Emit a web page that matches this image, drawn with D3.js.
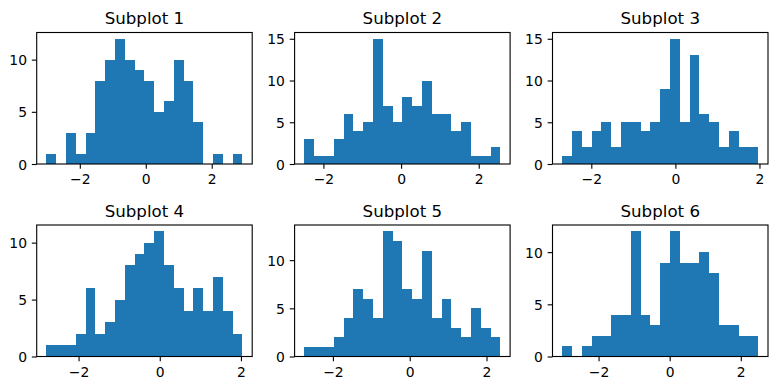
<!DOCTYPE html>
<html><head><meta charset="utf-8">
<script src="https://cdn.jsdelivr.net/npm/d3@7"></script>
<style>
body{margin:0;background:#fff}
svg{display:block}
text{font-family:"DejaVu Sans",sans-serif}
</style>
</head><body>
<svg id="c" width="776" height="390"></svg>
<script>
// ---- data ----
const titles = ["Subplot 1","Subplot 2","Subplot 3","Subplot 4","Subplot 5","Subplot 6"];
const counts1 = [1,0,3,1,3,8,10,12,10,9,8,5,6,10,8,4,0,1,0,1];
const counts2 = [3,1,1,3,6,4,5,15,7,5,8,7,10,6,6,4,5,1,1,2];
const counts3 = [1,4,2,4,5,2,5,5,4,5,9,15,5,13,6,5,2,4,2,2];
const counts4 = [1,1,1,2,6,2,3,5,8,9,10,11,8,6,4,6,4,7,4,2];
const counts5 = [1,1,1,2,4,7,6,4,13,12,7,6,11,4,6,3,2,5,3,2];
const counts6 = [1,0,1,2,2,4,4,12,4,3,9,12,9,9,10,8,3,3,2,2];
const dataMin = [-3.01,-2.49,-2.69,-2.79,-2.742,-3.02];
const dataMax = [2.93,2.556,1.97,2.036,2.359,2.49];
const xTicks = [-2,0,2];
const yTicks1 = [0,5,10];
const yTicks2 = [0,5,10,15];
const yTicks3 = [0,5,10,15];
const yTicks4 = [0,5,10];
const yTicks5 = [0,5,10];
const yTicks6 = [0,5,10];
const allCounts = [counts1,counts2,counts3,counts4,counts5,counts6];
const allYTicks = [yTicks1,yTicks2,yTicks3,yTicks4,yTicks5,yTicks6];

// ---- layout ----
const svg = d3.select("#c");
svg.append("rect").attr("width",776).attr("height",390).attr("fill","#fff");
const colLeft = [36.7, 294.6, 552.5];
const rowTop = [32.5, 225];
const W = 215.5, H = 131.5;
const barColor = "#1f77b4";
const tickLen = 4.86, tickPad = 4.86, lw = 1.11;

allCounts.forEach((counts, k) => {
  const left = colLeft[k % 3], top = rowTop[Math.floor(k / 3)];
  const lo = dataMin[k], hi = dataMax[k], R = hi - lo;
  const nb = counts.length, bw = R / nb;
  const x = d3.scaleLinear().domain([lo - 0.05 * R, hi + 0.05 * R]).range([left, left + W]);
  const y = d3.scaleLinear().domain([0, d3.max(counts) * 1.05]).range([top + H, top]);
  const g = svg.append("g");

  g.selectAll("rect.bar").data(counts.map((c, i) => ({c, x0: lo + i * bw, x1: lo + (i + 1) * bw})).filter(d => d.c > 0))
    .join("rect").attr("class","bar")
    .attr("x", d => x(d.x0)).attr("width", d => x(d.x1) - x(d.x0))
    .attr("y", d => y(d.c)).attr("height", d => y(0) - y(d.c))
    .attr("fill", barColor).attr("shape-rendering","crispEdges");

  const xa = g.append("g").attr("transform", `translate(0,${top + H})`)
    .call(d3.axisBottom(x).tickValues(xTicks).tickSize(tickLen).tickPadding(tickPad).tickFormat(d3.format("")));
  xa.select(".domain").remove();
  xa.selectAll("line").attr("stroke","#000").attr("stroke-width",lw);
  xa.selectAll("text").attr("fill","#000").attr("font-size","13.9px").attr("font-family","DejaVu Sans").attr("dy","0.77em");

  const ya = g.append("g").attr("transform", `translate(${left},0)`)
    .call(d3.axisLeft(y).tickValues(allYTicks[k]).tickSize(tickLen).tickPadding(tickPad).tickFormat(d3.format("")));
  ya.select(".domain").remove();
  ya.selectAll("line").attr("stroke","#000").attr("stroke-width",lw);
  ya.selectAll("text").attr("fill","#000").attr("font-size","13.9px").attr("font-family","DejaVu Sans").attr("dy","0.36em");

  g.append("rect").attr("x", left).attr("y", top).attr("width", W).attr("height", H)
    .attr("fill","none").attr("stroke","#000").attr("stroke-width", lw);

  g.append("text").attr("x", left + W / 2).attr("y", top - 8.33)
    .attr("text-anchor","middle").attr("font-size","16.67px").attr("fill","#000")
    .text(titles[k]);
});
</script>
</body></html>
